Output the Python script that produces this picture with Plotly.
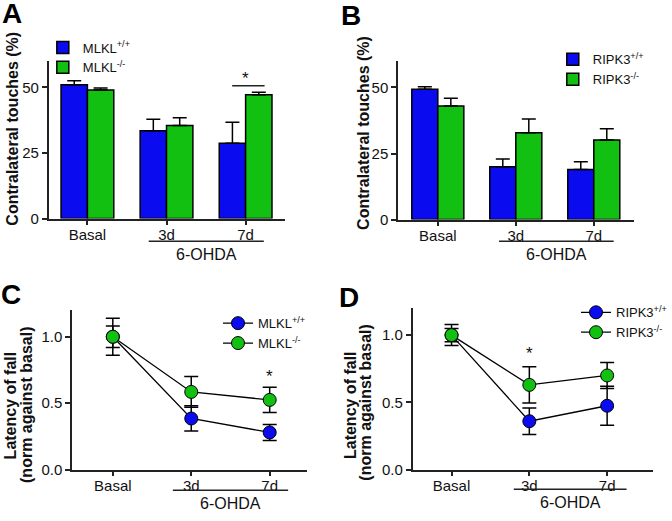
import plotly.graph_objects as go

categories = ["Basal", "3d", "7d"]

mlkl_wt_touch = [51.0, 33.5, 28.7]
mlkl_wt_touch_err = [1.5, 4.3, 8.0]
mlkl_ko_touch = [49.0, 35.5, 47.2]
mlkl_ko_touch_err = [0.7, 2.9, 0.9]

ripk3_wt_touch = [49.3, 20.0, 19.0]
ripk3_wt_touch_err = [1.0, 2.9, 2.9]
ripk3_ko_touch = [43.0, 32.9, 30.1]
ripk3_ko_touch_err = [2.9, 5.2, 4.3]

mlkl_wt_lat = [1.0, 0.385, 0.28]
mlkl_wt_lat_err = [0.14, 0.095, 0.06]
mlkl_ko_lat = [1.0, 0.585, 0.525]
mlkl_ko_lat_err = [0.08, 0.115, 0.095]

ripk3_wt_lat = [1.0, 0.36, 0.475]
ripk3_wt_lat_err = [0.05, 0.098, 0.145]
ripk3_ko_lat = [1.0, 0.63, 0.70]
ripk3_ko_lat_err = [0.078, 0.135, 0.097]

BLUE = "#0b0bf0"
GREEN = "#12c012"
FONT = "Liberation Sans, Arial, sans-serif"
W, H = 672, 521
TICKSIZE = 15


def px(x):
    return x / W


def py(y):
    return 1 - y / H


fig = go.Figure()


def bar(name, y, err, color, xa, ya, legend):
    fig.add_trace(go.Bar(
        x=categories, y=y, name=name, xaxis=xa, yaxis=ya, legend=legend,
        marker=dict(color=color, line=dict(color="black", width=1.5)),
        error_y=dict(type="data", symmetric=False, array=err,
                     arrayminus=[0] * len(err), color="black",
                     thickness=1.5, width=7),
    ))


def line(name, y, err, color, xa, ya, legend):
    fig.add_trace(go.Scatter(
        x=categories, y=y, name=name, xaxis=xa, yaxis=ya, legend=legend,
        mode="lines+markers",
        line=dict(color="black", width=1.3),
        marker=dict(color=color, size=13, line=dict(color="black", width=1)),
        error_y=dict(type="data", array=err, color="black",
                     thickness=1.5, width=7),
    ))


bar("MLKL<sup>+/+</sup>", mlkl_wt_touch, mlkl_wt_touch_err, BLUE, "x", "y", "legend")
bar("MLKL<sup>-/-</sup>", mlkl_ko_touch, mlkl_ko_touch_err, GREEN, "x", "y", "legend")
bar("RIPK3<sup>+/+</sup>", ripk3_wt_touch, ripk3_wt_touch_err, BLUE, "x2", "y2", "legend2")
bar("RIPK3<sup>-/-</sup>", ripk3_ko_touch, ripk3_ko_touch_err, GREEN, "x2", "y2", "legend2")
line("MLKL<sup>+/+</sup>", mlkl_wt_lat, mlkl_wt_lat_err, BLUE, "x3", "y3", "legend3")
line("MLKL<sup>-/-</sup>", mlkl_ko_lat, mlkl_ko_lat_err, GREEN, "x3", "y3", "legend3")
line("RIPK3<sup>+/+</sup>", ripk3_wt_lat, ripk3_wt_lat_err, BLUE, "x4", "y4", "legend4")
line("RIPK3<sup>-/-</sup>", ripk3_ko_lat, ripk3_ko_lat_err, GREEN, "x4", "y4", "legend4")


def common():
    return dict(showline=True, linecolor="#222", linewidth=1.5, ticks="outside",
                ticklen=5, tickwidth=1.5, tickcolor="#222", showgrid=False,
                zeroline=False, fixedrange=True,
                tickfont=dict(size=TICKSIZE, color="#111", family=FONT))


def xax(x0, x1, anchor, rng):
    d = common()
    d.update(domain=[px(x0), px(x1)], anchor=anchor, type="category", range=rng,
             ticklabelstandoff=-3)
    return d


def yax(y0, y1, anchor, rng, tickvals, ticktext):
    d = common()
    d.update(domain=[py(y1), py(y0)], anchor=anchor, range=rng,
             tickvals=tickvals, ticktext=ticktext)
    return d


def legend(x, y):
    return dict(x=px(x), y=py(y), xanchor="left", yanchor="top",
                bgcolor="rgba(0,0,0,0)", borderwidth=0,
                font=dict(size=13, family=FONT, color="#111"),
                tracegroupgap=0, itemwidth=30)


fig.update_layout(
    width=W, height=H, margin=dict(l=0, r=0, t=0, b=0),
    paper_bgcolor="white", plot_bgcolor="white",
    font=dict(family=FONT, color="#111"),
    barmode="group", bargap=0.333, bargroupgap=0,
    xaxis=xax(50, 293, "y", [-0.49, 2.5]),
    yaxis=yax(62, 222, "x", [0, 60], [0, 25, 50], ["0", "25", "50"]),
    xaxis2=xax(409, 651, "y2", [-0.51, 2.51]),
    yaxis2=yax(62, 223, "x2", [0, 60], [0, 25, 50], ["0", "25", "50"]),
    xaxis3=xax(74, 315, "y3", [-0.52, 2.47]),
    yaxis3=yax(315, 477, "x3", [0, 1.2], [0, 0.5, 1.0], ["0.0", "0.5", "1.0"]),
    xaxis4=xax(424, 671, "y4", [-0.5, 2.59]),
    yaxis4=yax(313, 477, "x4", [0, 1.2], [0, 0.5, 1.0], ["0.0", "0.5", "1.0"]),
    legend=legend(44, 33),
    legend2=legend(568, 45),
    legend3=legend(224, 313),
    legend4=legend(592, 302),
    showlegend=True,
)

annotations = []
shapes = []

# panel letters
for letter, x, y in [("A", 12.5, 14), ("B", 361, 16), ("C", 11, 299), ("D", 359, 302)]:
    annotations.append(dict(text=letter, x=px(x), y=py(y), xref="paper", yref="paper",
                            showarrow=False, xanchor="center", yanchor="middle",
                            font=dict(size=28, family=FONT, color="black", weight="bold")))

# y titles
ytitles = [
    ("Contralateral touches (%)", 13, 131),
    ("Contralateral touches (%)", 374, 135),
    ("Latency of fall", 11, 412),
    ("(norm against basal)", 27, 411),
    ("Latency of fall", 360, 411),
    ("(norm against basal)", 376, 409),
]
for t, x, y in ytitles:
    annotations.append(dict(text=t, x=px(x), y=py(y), xref="paper", yref="paper",
                            showarrow=False, textangle=-90, xanchor="center",
                            yanchor="middle",
                            font=dict(size=16, family=FONT, color="#111", weight="bold")))

# 6-OHDA underlines
for xa, x0, x1, yline, ytext in [("x", 0.775, 2.23, 245, 258),
                                  ("x2", 0.785, 2.255, 245, 258),
                                  ("x3", 0.765, 2.235, 498, 511),
                                  ("x4", 0.8, 2.25, 497, 510)]:
    shapes.append(dict(type="line", xref=xa, yref="paper", x0=x0, x1=x1,
                       y0=py(yline), y1=py(yline), line=dict(color="#222", width=1.5)))
    annotations.append(dict(text="6-OHDA", xref=xa, yref="paper", x=(x0 + x1) / 2,
                            y=py(ytext), showarrow=False, xanchor="center",
                            yanchor="middle", font=dict(size=16, family=FONT, color="#111")))

# significance markers
shapes.append(dict(type="line", xref="x", yref="y", x0=1.83, x1=2.24, y0=50.6, y1=50.6,
                   line=dict(color="#222", width=1.5)))
annotations.append(dict(text="*", xref="x", yref="y", x=2.0, y=53.2, showarrow=False,
                        yanchor="middle", font=dict(size=17, family=FONT, color="#111")))
annotations.append(dict(text="*", xref="x3", yref="y3", x=2, y=0.70, showarrow=False,
                        yanchor="middle", font=dict(size=17, family=FONT, color="#111")))
annotations.append(dict(text="*", xref="x4", yref="y4", x=1, y=0.86, showarrow=False,
                        yanchor="middle", font=dict(size=17, family=FONT, color="#111")))

fig.update_layout(annotations=annotations, shapes=shapes)

fig.write_html(
    "out.html",
    config={"displayModeBar": False},
    post_script="document.body.style.margin='0';document.body.style.padding='0';",
)
